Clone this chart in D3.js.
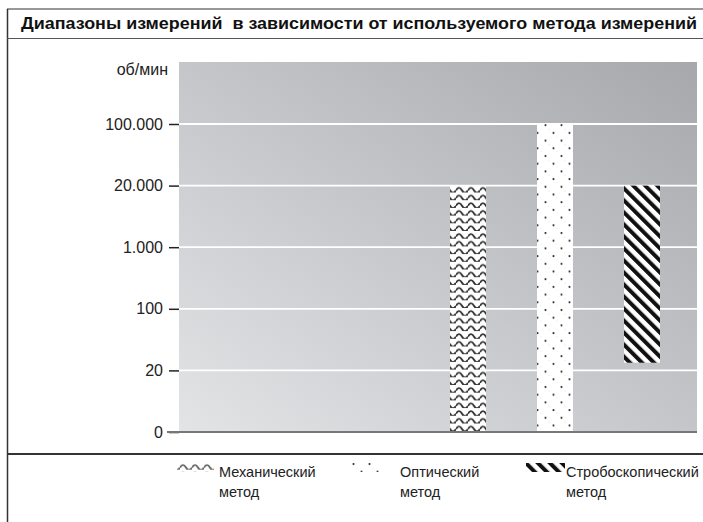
<!DOCTYPE html>
<html><head><meta charset="utf-8">
<script src="https://cdn.jsdelivr.net/npm/d3@7"></script>
<style>html,body{margin:0;padding:0;background:#fff;}svg{display:block;font-family:"Liberation Sans",Arial,sans-serif;}</style>
</head><body>
<script>
const title = "Диапазоны измерений  в зависимости от используемого метода измерений";
const unitLabel = "об/мин";
const tickValues = [0, 20, 100, 1000, 20000, 100000];
const methods = ["Механический", "Оптический", "Стробоскопический"];
const legendLine2 = "метод";
const rangeMin = [0, 0, 30];
const rangeMax = [20000, 100000, 20000];
const patternIds = ["wave", "dots", "stripes"];

const W = 703, H = 522;
const svg = d3.select("body").append("svg").attr("width", W).attr("height", H);
const defs = svg.append("defs");

// background gradient
const grad = defs.append("linearGradient").attr("id", "bg").attr("x1", 0).attr("y1", 1).attr("x2", 1).attr("y2", 0);
grad.append("stop").attr("offset", "0%").attr("stop-color", "#e3e4e6");
grad.append("stop").attr("offset", "100%").attr("stop-color", "#a7a8ac");

// patterns
const pw = defs.append("pattern").attr("id", "wave").attr("patternUnits", "userSpaceOnUse").attr("width", 12).attr("height", 7.7);
pw.append("rect").attr("width", 12).attr("height", 7.7).attr("fill", "#fff");
pw.append("path").attr("d", "M0,5.5 Q3,0.5 6,5.5 T12,5.5").attr("fill", "none").attr("stroke", "#333").attr("stroke-width", 1.9);

const pd = defs.append("pattern").attr("id", "dots").attr("patternUnits", "userSpaceOnUse").attr("width", 16).attr("height", 15.4);
pd.append("rect").attr("width", 16).attr("height", 15.4).attr("fill", "#fff");
pd.append("circle").attr("cx", 1.5).attr("cy", 2).attr("r", 1.1).attr("fill", "#333");
pd.append("circle").attr("cx", 9.5).attr("cy", 9.7).attr("r", 1.1).attr("fill", "#333");
pd.append("circle").attr("cx", 5).attr("cy", 6).attr("r", 0.4).attr("fill", "#bbb");
pd.append("circle").attr("cx", 13).attr("cy", 13).attr("r", 0.4).attr("fill", "#ccc");

const ps = defs.append("pattern").attr("id", "stripes").attr("patternUnits", "userSpaceOnUse").attr("width", 8.5).attr("height", 8.5).attr("patternTransform", "rotate(-45)");
ps.append("rect").attr("width", 8.5).attr("height", 8.5).attr("fill", "#fff");
ps.append("rect").attr("width", 4).attr("height", 8.5).attr("fill", "#111");

// frame
const frame = svg.append("g").attr("stroke", "#333").attr("fill", "none");
frame.append("line").attr("x1", 7).attr("x2", W).attr("y1", 9).attr("y2", 9).attr("stroke-width", 1.2);
frame.append("line").attr("x1", 7.5).attr("x2", 7.5).attr("y1", 9).attr("y2", H).attr("stroke-width", 1.5);
frame.append("line").attr("x1", 7).attr("x2", W).attr("y1", 38.5).attr("y2", 38.5).attr("stroke-width", 1).attr("stroke", "#555");
frame.append("line").attr("x1", 7).attr("x2", W).attr("y1", 454).attr("y2", 454).attr("stroke-width", 2);

svg.append("text").attr("x", 21).attr("y", 28.5).attr("font-weight", "bold").attr("font-size", 16)
  .attr("fill", "#111").attr("textLength", 676).attr("lengthAdjust", "spacingAndGlyphs")
  .style("white-space", "pre").attr("xml:space", "preserve").text(title);

// plot
const plot = {left: 179, right: 697, top: 62, bottom: 432};
const yTop = 124, step = (plot.bottom - yTop) / (tickValues.length - 1);
const y = d3.scaleLinear().domain(tickValues).range(tickValues.map((d, i) => plot.bottom - i * step));
const x = d3.scalePoint().domain(methods).range([468, 642]);
const barW = 36;

svg.append("rect").attr("x", plot.left).attr("y", plot.top).attr("width", plot.right - plot.left)
  .attr("height", plot.bottom - plot.top).attr("fill", "url(#bg)");

// gridlines
svg.append("g").selectAll("line").data(tickValues.filter(d => d > 0)).join("line")
  .attr("x1", plot.left).attr("x2", plot.right).attr("y1", d => y(d)).attr("y2", d => y(d))
  .attr("stroke", "#fff").attr("stroke-width", 1.8);

const fmt = d3.formatLocale({decimal: ",", thousands: ".", grouping: [3], currency: ["", ""]}).format(",d");
const yAxis = d3.axisLeft(y).tickValues(tickValues).tickFormat(fmt).tickSize(10).tickPadding(6);
const ag = svg.append("g").attr("transform", `translate(${plot.left},0)`).call(yAxis);
ag.select(".domain").remove();
ag.selectAll(".tick line").attr("stroke", "#222").attr("stroke-width", 1.5);
ag.selectAll(".tick text").attr("font-size", 16).attr("fill", "#222").attr("font-family", "Liberation Sans, Arial, sans-serif");

svg.append("text").attr("x", 168).attr("y", 75).attr("text-anchor", "end").attr("font-size", 16).attr("fill", "#222").text(unitLabel);

// bars
svg.append("g").selectAll("rect").data(methods).join("rect")
  .attr("x", d => x(d) - barW / 2).attr("width", barW)
  .attr("y", (d, i) => y(rangeMax[i])).attr("height", (d, i) => y(rangeMin[i]) - y(rangeMax[i]))
  .attr("fill", (d, i) => `url(#${patternIds[i]})`);

// baseline
svg.append("line").attr("x1", 167).attr("x2", plot.right).attr("y1", plot.bottom).attr("y2", plot.bottom)
  .attr("stroke", "#777").attr("stroke-width", 2);

// legend
const legX = [219, 400, 566];
const swX = [[177, 214], [352, 380], [526, 565]];
const lg = svg.append("g").attr("font-size", 14.5).attr("fill", "#222");
methods.forEach((m, i) => {
  lg.append("rect").attr("x", swX[i][0]).attr("y", 463).attr("width", swX[i][1] - swX[i][0]).attr("height", 9)
    .attr("fill", `url(#${patternIds[i]})`).attr("opacity", i === 0 ? 0.75 : 1);
  lg.append("text").attr("x", legX[i]).attr("y", 476.5).text(m);
  lg.append("text").attr("x", legX[i]).attr("y", 496.5).text(legendLine2);
});
</script>
</body></html>
